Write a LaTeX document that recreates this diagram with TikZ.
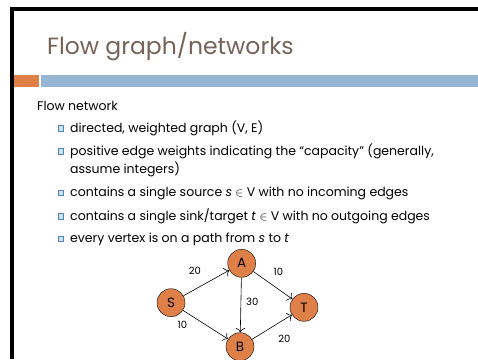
\documentclass[tikz,border=0pt]{standalone}
\usepackage{fontspec}
\setmainfont{Poppins}
\usetikzlibrary{arrows.meta}
\definecolor{titlegray}{RGB}{117,99,90}
\definecolor{slideorange}{RGB}{222,128,72}
\definecolor{slideblue}{RGB}{148,182,210}
\definecolor{bulletblue}{RGB}{84,136,186}
\definecolor{bulletfill}{RGB}{205,222,238}

\begin{document}
\begin{tikzpicture}[x=1pt, y=-1pt,
  vertex/.style={circle, draw=black, fill=slideorange, minimum size=28pt, inner sep=0pt, font=\fontsize{13.5}{15}\selectfont},
  textline/.style={anchor=base west, inner sep=0pt, font=\fontsize{12.5}{15}\selectfont},
  bullet/.style={draw=bulletblue, fill=bulletfill, line width=1pt, minimum size=5.5pt, inner sep=0pt},
  weight/.style={inner sep=0pt, font=\fontsize{10}{12}\selectfont},
  flow/.style={-{To[length=4.5pt]}, line width=0.6pt}]
  \useasboundingbox (0,0) rectangle (478,359);
  % slide frame and title bar
  \draw[line width=3.5pt] (12,359) -- (12,9) -- (478,9);
  \fill[slideorange] (13.5,75) rectangle (39,87);
  \fill[slideblue] (41,75) rectangle (478,87);
  \node[anchor=base west, inner sep=0pt, text=titlegray, font=\fontsize{23.5}{26}\selectfont] (title) at (47,54) {Flow graph/networks};

  % text
  \node[textline] (head) at (37,110) {Flow network};
  \foreach \y [count=\i] in {132.3,155,196.7,220,242.7}
    \node[bullet] (bul\i) at (61,\y-3.6) {};
  \node[textline] (l1) at (70,132.3) {directed, weighted graph (V, E)};
  \node[textline] (l2) at (70,155) {positive edge weights indicating the “capacity” (generally,};
  \node[textline] (l2b) at (70,173.3) {assume integers)};
  \node[textline] (l3) at (70,196.7) {contains a single source \textit{s} $\in$ V with no incoming edges};
  \node[textline] (l4) at (70,220) {contains a single sink/target \textit{t} $\in$ V with no outgoing edges};
  \node[textline] (l5) at (70,242.7) {every vertex is on a path from \textit{s} to \textit{t}};

  % flow graph
  \node[vertex] (S) at (171,302.7) {S};
  \node[vertex] (A) at (241.7,263.3) {A};
  \node[vertex] (T) at (304,307.3) {T};
  \node[vertex] (B) at (240,346.7) {B};
  \draw[flow] (S) -- (A);
  \draw[flow] (S) -- (B);
  \draw[flow] (A) -- (T);
  \draw[flow] (A) -- (B);
  \draw[flow] (B) -- (T);
  \node[weight] (wSA) at (195,270.7) {20};
  \node[weight] (wAT) at (278.3,272.3) {10};
  \node[weight] (wAB) at (252.3,302.3) {30};
  \node[weight] (wSB) at (182.3,325) {10};
  \node[weight] (wBT) at (284.3,339.3) {20};
\end{tikzpicture}
\end{document}
